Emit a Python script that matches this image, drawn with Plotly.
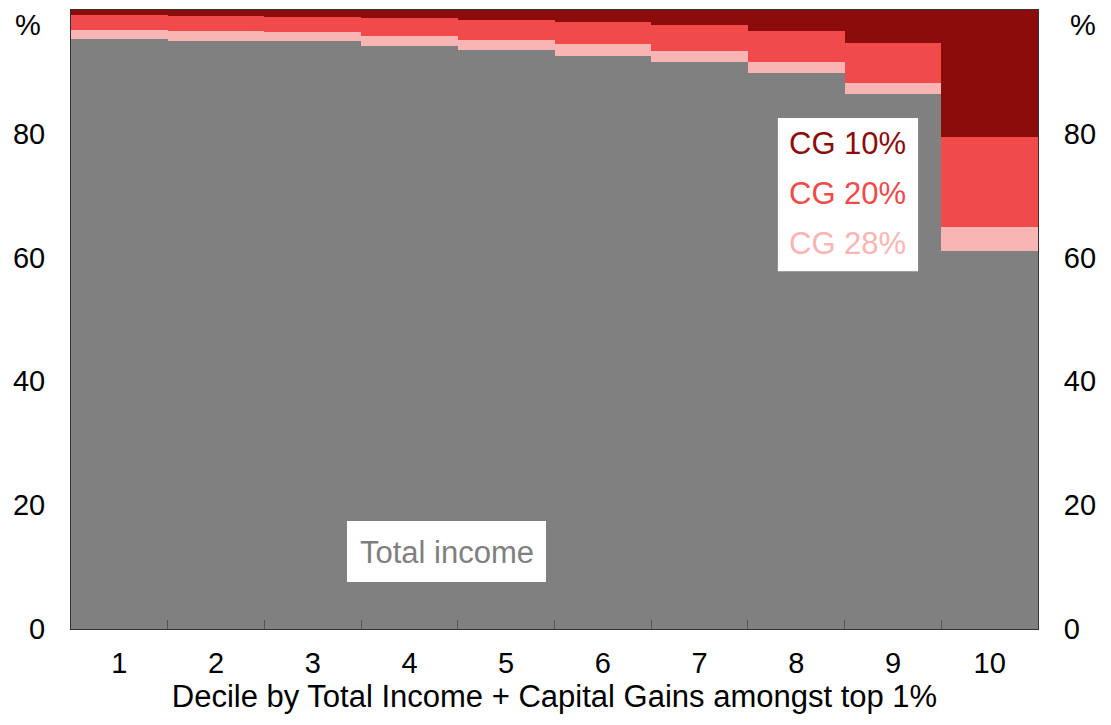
import plotly.graph_objects as go

deciles = ["1", "2", "3", "4", "5", "6", "7", "8", "9", "10"]
total_income = [95.2, 95.0, 94.9, 94.2, 93.5, 92.6, 91.6, 89.8, 86.4, 61.1]
cg_28 = [1.6, 1.5, 1.45, 1.6, 1.6, 1.9, 1.8, 1.8, 1.8, 3.8]
cg_20 = [2.3, 2.5, 2.5, 2.8, 3.2, 3.55, 4.15, 4.9, 6.4, 14.5]
cg_10 = [1.0, 1.0, 1.15, 1.4, 1.7, 2.0, 2.5, 3.5, 5.4, 20.6]
y_ticks = [0, 20, 40, 60, 80]

GRAY = "#808080"
PINK = "#F9B4B4"
RED = "#F04A4A"
DARK = "#8C0C0C"
FONT = "Liberation Sans, Arial, sans-serif"
TICK = 29
TXT = 31

fig = go.Figure()
for name, vals, col in [("Total income", total_income, GRAY), ("CG 28%", cg_28, PINK),
                        ("CG 20%", cg_20, RED), ("CG 10%", cg_10, DARK)]:
    fig.add_trace(go.Bar(x=deciles, y=vals, name=name, marker=dict(color=col, line=dict(width=0)),
                         showlegend=False, hoverinfo="skip"))
# invisible trace for right axis
fig.add_trace(go.Scatter(x=deciles, y=total_income, yaxis="y2", mode="markers",
                         marker=dict(opacity=0, size=1), showlegend=False, hoverinfo="skip"))

fig.update_layout(
    barmode="stack", bargap=0,
    width=1103, height=717,
    margin=dict(l=63, r=73, t=2, b=96, autoexpand=False),
    paper_bgcolor="white", plot_bgcolor="white",
    font=dict(family=FONT, size=TICK, color="black"),
    xaxis=dict(type="category", range=[-0.5, len(deciles) - 0.5], tickson="boundaries", ticks="inside",
               ticklen=9, tickcolor="#555555",
               tickwidth=1, showline=True, linecolor="#333333", linewidth=1, mirror=True,
               title=dict(text="Decile by Total Income + Capital Gains amongst top 1%", standoff=6,
                          font=dict(size=TXT)),
               tickfont=dict(size=TICK), showgrid=False, ticklabelstandoff=8),
    yaxis=dict(range=[0, 99.95], tickvals=y_ticks, ticks="", showgrid=False, zeroline=False,
               showline=True, linecolor="#333333", linewidth=1, tickfont=dict(size=TICK), ticklabelstandoff=19),
    yaxis2=dict(range=[0, 99.95], tickvals=y_ticks, ticks="", showgrid=False, zeroline=False,
                overlaying="y", side="right", showline=True, linecolor="#333333", linewidth=1,
                tickfont=dict(size=TICK), ticklabelstandoff=19),
)

shapes = [
    dict(type="rect", xref="paper", yref="paper", x0=0.731, x1=0.876, y0=0.578, y1=0.8255,
         fillcolor="white", line=dict(width=0), layer="above"),
    dict(type="rect", xref="paper", yref="paper", x0=0.2854, x1=0.4912, y0=0.0759, y1=0.1745,
         fillcolor="white", line=dict(width=0), layer="above"),
]
fig.update_layout(shapes=shapes)

anns = [
    dict(text="CG 10%", x=0.8035, y=0.785, color=DARK),
    dict(text="CG 20%", x=0.8035, y=0.704, color=RED),
    dict(text="CG 28%", x=0.8035, y=0.623, color=PINK),
    dict(text="Total income", x=0.389, y=0.124, color=GRAY),
]
for a in anns:
    fig.add_annotation(text=a["text"], x=a["x"], y=a["y"], xref="paper", yref="paper",
                       showarrow=False, font=dict(size=TXT, color=a["color"], family=FONT),
                       xanchor="center", yanchor="middle")
fig.add_annotation(text="%", x=-0.0445, y=0.976, xref="paper", yref="paper", showarrow=False,
                   font=dict(size=TICK), xanchor="center", yanchor="middle")
fig.add_annotation(text="%", x=1.0465, y=0.976, xref="paper", yref="paper", showarrow=False,
                   font=dict(size=TICK), xanchor="center", yanchor="middle")

fig.write_html("out.html")
